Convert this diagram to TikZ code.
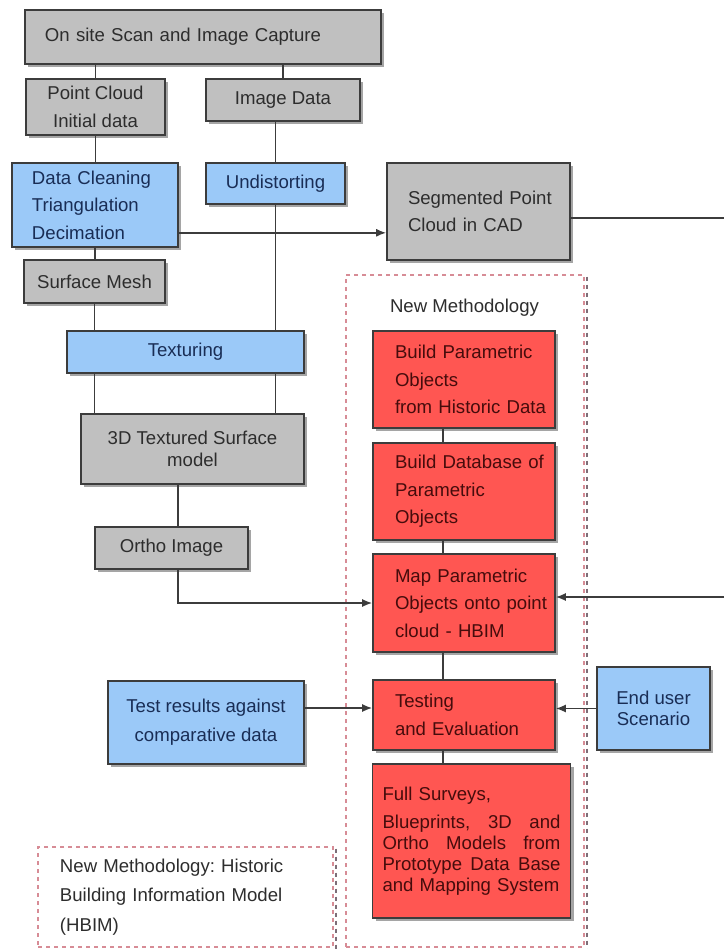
\documentclass[tikz,border=0pt]{standalone}
\usepackage{fontspec}
\setmainfont{Liberation Sans}
\usetikzlibrary{shadows,arrows.meta}
\definecolor{boxGray}{RGB}{192,192,192}
\definecolor{boxBlue}{RGB}{155,201,248}
\definecolor{boxRed}{RGB}{255,86,82}
\definecolor{lineDark}{RGB}{60,60,60}
\definecolor{textGray}{RGB}{45,45,45}
\definecolor{textBlue}{RGB}{25,45,85}
\definecolor{textRed}{RGB}{70,12,12}
\definecolor{dashPink}{RGB}{215,140,150}
\definecolor{dashShade}{RGB}{125,110,120}
\frenchspacing

\begin{document}
\begin{tikzpicture}[x=0.5pt,y=-0.5pt,
  font=\fontsize{9.3pt}{13.7pt}\selectfont,
  box/.style={draw=lineDark,line width=0.8pt,inner sep=0pt,align=center,
    drop shadow={shadow xshift=1.6pt,shadow yshift=-1.6pt,fill=black!70,opacity=0.5}},
  graybox/.style={box,fill=boxGray,text=textGray},
  bluebox/.style={box,fill=boxBlue,text=textBlue},
  redbox/.style={box,fill=boxRed,text=textRed,align=left,inner xsep=11pt,
    text width=69pt,minimum width=91pt,minimum height=48.5pt,
    execute at begin node={\hyphenpenalty=10000\exhyphenpenalty=10000}},
  link/.style={draw=lineDark,line width=0.8pt},
  arr/.style={link,-{Latex[length=5pt,width=4pt]}},
  dashbox/.style={draw=dashPink,line width=0.7pt,dash pattern=on 2pt off 2pt,fill=white},
  dashshade/.style={draw=dashShade,line width=0.7pt,dash pattern=on 2pt off 2pt}]
\useasboundingbox (0,0) rectangle (725,949);
% Capture and survey data
\node[graybox,align=left,inner xsep=10pt,text width=158pt,minimum height=27pt] (scan) at (203,37) {On site Scan and Image Capture};
\node[graybox,minimum width=69.5pt,minimum height=28pt] (pc) at (95.5,107) {Point Cloud\\Initial data};
\node[graybox,minimum width=77pt,minimum height=21pt] (img) at (283,100) {Image Data};
\node[bluebox,align=left,inner xsep=10pt,text width=63pt,minimum height=42pt] (clean) at (95,205) {Data Cleaning\\Triangulation\\Decimation};
\node[bluebox,minimum width=69.5pt,minimum height=20.5pt] (undist) at (275.5,183.5) {Undistorting};
\node[graybox,align=left,inner xsep=10.5pt,text width=70.5pt,minimum height=48.5pt] (seg) at (478.5,211.5) {Segmented~Point\\Cloud in CAD};
\node[graybox,minimum width=70.5pt,minimum height=21.5pt] (mesh) at (94.5,281.5) {Surface Mesh};
\node[bluebox,minimum width=118.5pt,minimum height=21pt] (tex) at (185.5,352) {Texturing};
\node[graybox,minimum width=111.5pt,minimum height=35pt] (tds) at (192.5,449) {3D Textured Surface\\[-3pt]model};
\node[graybox,minimum width=76.5pt,minimum height=21pt] (ortho) at (171.5,548) {Ortho Image};
% New methodology frame
\node[dashbox,minimum width=119pt,minimum height=336pt] (newmeth) at (465,611) {};
\draw[dashshade] ([shift={(1.2pt,-1.2pt)}]newmeth.north east) -- ([shift={(1.2pt,-1.2pt)}]newmeth.south east) -- ([shift={(1.2pt,-1.2pt)}]newmeth.south west);
\node[anchor=west,text=textGray] (nmlabel) at (383,308) {New Methodology};
\node[redbox] (bpo) at (464,379.5) {Build~Parametric\\Objects\\from~Historic~Data};
\node[redbox] (bdb) at (464,491.5) {Build~Database~of\\Parametric\\Objects};
\node[redbox,minimum height=49pt] (map) at (464,603) {Map~Parametric\\Objects~onto~point\\cloud - HBIM};
\node[redbox,minimum height=35pt] (test) at (464,715) {Testing\\and~Evaluation};
\node[redbox,font=\fontsize{9.3pt}{10.6pt}\selectfont,inner xsep=5pt,text width=89pt,minimum width=98.5pt,minimum height=77pt] (full) at (471.5,841)
  {Full Surveys,\\[3.4pt]\makebox[89pt]{Blueprints,\hfill 3D\hfill and}\\\makebox[89pt]{Ortho\hfill Models\hfill from}\\\makebox[89pt]{Prototype\hfill Data\hfill Base}\\and Mapping System};
% Side inputs
\node[bluebox,minimum width=98pt,minimum height=41.5pt,font=\fontsize{9.3pt}{14.5pt}\selectfont] (cmp) at (206,722.5) {Test results against\\comparative data};
\node[bluebox,minimum width=56.5pt,minimum height=41.5pt,font=\fontsize{9.3pt}{10.5pt}\selectfont] (enduser) at (653.5,708.5) {End user\\Scenario};
% Legend
\node[dashbox,align=left,text=textGray,inner xsep=11pt,text width=125.5pt,minimum height=50pt,font=\fontsize{9.3pt}{14.75pt}\selectfont] (legend) at (185.5,897)
  {New Methodology: Historic\\Building Information Model\\(HBIM)};
\draw[dashshade] ([shift={(1.2pt,-1.2pt)}]legend.north east) -- ([shift={(1.2pt,-1.2pt)}]legend.south east) -- ([shift={(1.2pt,-1.2pt)}]legend.south west);
\coordinate (rim) at (724,0);
% Connections
\draw[link] (pc.north |- scan.south) -- (pc.north);
\draw[link] (img.north |- scan.south) -- (img.north);
\draw[link] (pc.south) -- (pc.south |- clean.north);
\draw[link] (undist.north) -- (undist.north |- img.south);
\draw[arr] ([yshift=7.5pt]clean.south east) -- ([yshift=7.5pt]clean.south east -| seg.west);
\draw[link] (clean.south) -- (clean.south |- mesh.north);
\draw[link] (mesh.south) -- (mesh.south |- tex.north);
\draw[link] (undist.south) -- (undist.south |- tex.north);
\draw[link] (mesh.south |- tex.south) -- (mesh.south |- tds.north);
\draw[link] (undist.south |- tex.south) -- (undist.south |- tds.north);
\draw[link] ([xshift=3.25pt]ortho.north) -- ([xshift=3.25pt]ortho.north |- tds.south);
\draw[arr] ([xshift=3.25pt]ortho.south) |- (map.west);
\draw[link] ([yshift=-3.25pt]seg.east) -- ([yshift=-3.25pt]seg.east -| rim);
\draw[arr] ([yshift=3pt]map.east -| rim) -- ([yshift=3pt]map.east);
\draw[link] ([xshift=-10.5pt]bpo.south) -- ([xshift=-10.5pt]bdb.north);
\draw[link] ([xshift=-10.5pt]bdb.south) -- ([xshift=-10.5pt]map.north);
\draw[link] ([xshift=-10.5pt]map.south) -- ([xshift=-10.5pt]test.north);
\draw[link] ([xshift=-10.5pt]test.south) -- ([xshift=-10.5pt]test.south |- full.north);
\draw[arr] ([yshift=7.25pt]cmp.east) -- ([yshift=7.25pt]cmp.east -| test.west);
\draw[arr] (enduser.west) -- (enduser.west -| test.east);
\end{tikzpicture}
\end{document}
